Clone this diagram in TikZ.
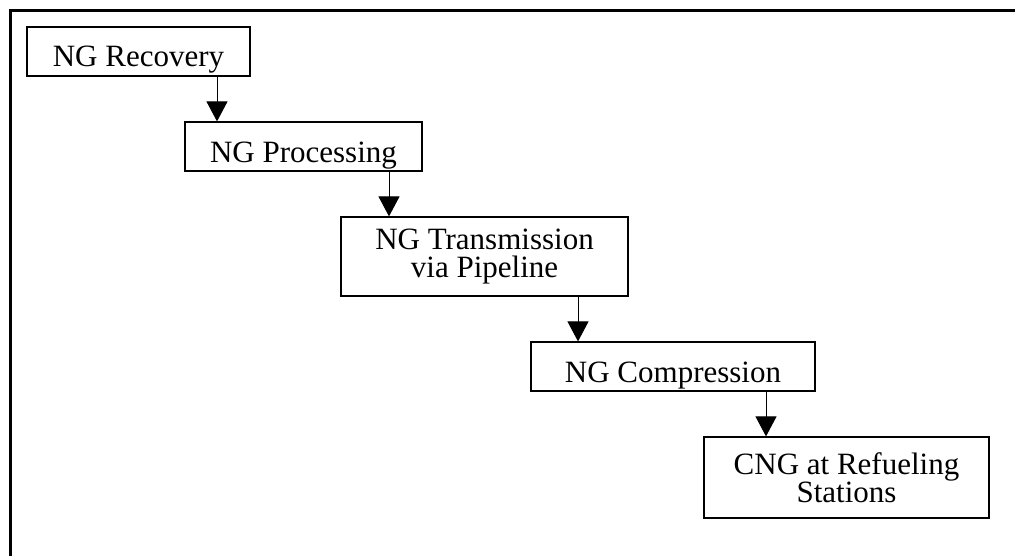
\documentclass[tikz,border=0pt]{standalone}
\usepackage{fontspec}
\setmainfont{Liberation Serif}
\usetikzlibrary{arrows.meta}
\tikzset{
  stage/.style={draw,line width=0.6pt,inner sep=0pt,align=center,
    font=\fontsize{15.5}{14}\selectfont},
  oneline/.style={text height=15.5pt,text depth=0pt},
  flow/.style={line width=0.5pt,-{Triangle[length=10pt,width=10.5pt]}},
}

\begin{document}
\begin{tikzpicture}[x=0.5pt,y=-0.5pt]
      \useasboundingbox (0,0) rectangle (1015,556);
      \draw[line width=1.4pt] (10.5,556)--(10.5,10.5)--(1015,10.5);
      \node[stage,oneline,minimum width=111.5pt,minimum height=24.5pt] (rec) at (138.5,51.5) {NG Recovery};
      \node[stage,oneline,minimum width=118.5pt,minimum height=24.5pt] (proc) at (303.5,146.5) {NG Processing};
      \node[stage,minimum width=143.5pt,minimum height=39.5pt] (trans) at (484.5,256.5) {NG Transmission\\via Pipeline};
      \node[stage,oneline,minimum width=142pt,minimum height=24.5pt] (comp) at (673,366.5) {NG Compression};
      \node[stage,minimum width=142.5pt,minimum height=40.5pt] (cng) at (846.5,477.5) {CNG at Refueling\\Stations};
      \coordinate (a1) at (217,0);
      \coordinate (a2) at (389,0);
      \coordinate (a3) at (578,0);
      \coordinate (a4) at (766,0);
      \draw[flow] (rec.south -| a1)--(proc.north -| a1);
      \draw[flow] (proc.south -| a2)--(trans.north -| a2);
      \draw[flow] (trans.south -| a3)--(comp.north -| a3);
      \draw[flow] (comp.south -| a4)--(cng.north -| a4);
\end{tikzpicture}
\end{document}
